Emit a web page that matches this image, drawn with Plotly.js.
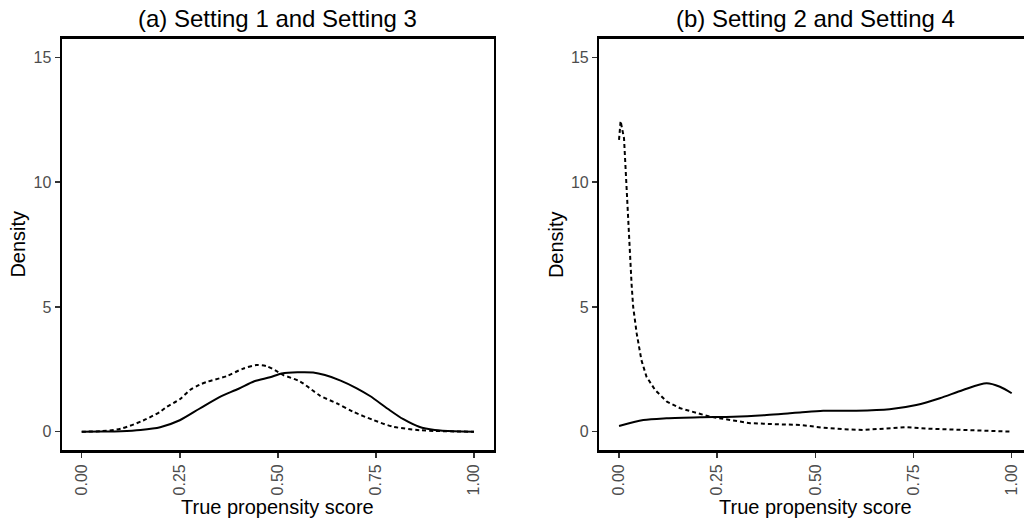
<!DOCTYPE html>
<html>
<head>
<meta charset="utf-8">
<script src="https://cdn.plot.ly/plotly-3.0.1.min.js"></script>
<style>html,body{margin:0;padding:0;background:#fff;overflow:hidden;}#chart{width:1024px;height:523px;}</style>
</head>
<body>
<div id="chart"></div>
<script>
// Panel (a): Setting 1 and Setting 3
const aSolidX = [0, 0.05, 0.1, 0.15, 0.2, 0.25, 0.3, 0.35, 0.4, 0.44, 0.48, 0.51, 0.55, 0.59, 0.62, 0.66, 0.7, 0.735, 0.78, 0.82, 0.86, 0.9, 0.95, 1.0];
const aSolidY = [0, 0.005, 0.02, 0.07, 0.18, 0.46, 0.92, 1.38, 1.72, 2.02, 2.18, 2.33, 2.38, 2.37, 2.27, 2.05, 1.75, 1.43, 0.92, 0.5, 0.2, 0.07, 0.015, 0];
const aDashX = [0, 0.05, 0.1, 0.157, 0.2, 0.217, 0.25, 0.276, 0.3, 0.32, 0.37, 0.41, 0.446, 0.472, 0.5, 0.514, 0.556, 0.607, 0.65, 0.692, 0.743, 0.794, 0.862, 0.9, 0.95, 1.0];
const aDashY = [0, 0.02, 0.12, 0.45, 0.8, 1.0, 1.3, 1.67, 1.88, 2.0, 2.23, 2.52, 2.67, 2.62, 2.4, 2.27, 2.02, 1.45, 1.14, 0.8, 0.47, 0.2, 0.06, 0.03, 0.01, 0];
// Panel (b): Setting 2 and Setting 4
const bSolidX = [0, 0.062, 0.121, 0.206, 0.291, 0.376, 0.435, 0.461, 0.52, 0.604, 0.689, 0.757, 0.817, 0.876, 0.936, 0.97, 1.0];
const bSolidY = [0.23, 0.47, 0.54, 0.58, 0.6, 0.67, 0.74, 0.77, 0.84, 0.84, 0.9, 1.07, 1.34, 1.67, 1.94, 1.8, 1.54];
const bDashX = [0, 0.004, 0.0127, 0.018, 0.024, 0.032, 0.036, 0.045, 0.057, 0.07, 0.092, 0.122, 0.156, 0.198, 0.232, 0.291, 0.334, 0.4, 0.461, 0.52, 0.57, 0.622, 0.68, 0.733, 0.79, 0.843, 0.9, 0.95, 1.0];
const bDashY = [11.7, 12.45, 11.76, 10.1, 7.95, 5.9, 5.0, 3.94, 2.87, 2.2, 1.67, 1.2, 0.94, 0.74, 0.6, 0.45, 0.34, 0.3, 0.27, 0.16, 0.1, 0.07, 0.13, 0.18, 0.12, 0.1, 0.06, 0.03, 0];

const panelTitles = ["(a) Setting 1 and Setting 3", "(b) Setting 2 and Setting 4"];
const xTitle = "True propensity score";
const yTitle = "Density";
const xTicks = [0, 0.25, 0.5, 0.75, 1];
const xTickText = ["0.00", "0.25", "0.50", "0.75", "1.00"];
const yTicks = [0, 5, 10, 15];

const FONT = "Liberation Sans, Arial, Helvetica, sans-serif";
const W = 1024, H = 523;
const px2x = p => p / W;
const px2y = p => 1 - p / H;

const lineSolid = {color: "#000", width: 2};
const lineDash = {color: "#000", width: 2, dash: "4px,3px"};

const traces = [
  {x: aSolidX, y: aSolidY, xaxis: "x", yaxis: "y", mode: "lines", line: Object.assign({shape: "spline", smoothing: 0.8}, lineSolid), hoverinfo: "skip"},
  {x: aDashX, y: aDashY, xaxis: "x", yaxis: "y", mode: "lines", line: Object.assign({shape: "spline", smoothing: 0.8}, lineDash), hoverinfo: "skip"},
  {x: bSolidX, y: bSolidY, xaxis: "x2", yaxis: "y2", mode: "lines", line: Object.assign({shape: "spline", smoothing: 0.8}, lineSolid), hoverinfo: "skip"},
  {x: bDashX, y: bDashY, xaxis: "x2", yaxis: "y2", mode: "lines", line: Object.assign({shape: "linear"}, lineDash), hoverinfo: "skip"}
];

const yDomain = [px2y(450.4), px2y(38.8)];
const common = {
  showgrid: false, zeroline: false, showline: true, linecolor: "#000", linewidth: 2.5,
  ticks: "outside", ticklen: 5, tickwidth: 1.5, tickcolor: "#333333",
  tickfont: {family: FONT, size: 16, color: "#4D4D4D"}, fixedrange: true
};
const xCommon = Object.assign({}, common, {tickmode: "array", tickvals: xTicks, ticktext: xTickText, tickangle: -90});
const yCommon = Object.assign({}, common, {tickmode: "array", tickvals: yTicks, ticktext: yTicks.map(String), range: [-0.75, 15.75]});

const layout = {
  width: W, height: H,
  margin: {l: 0, r: 0, t: 0, b: 0},
  paper_bgcolor: "#fff", plot_bgcolor: "#fff",
  showlegend: false,
  xaxis: Object.assign({}, xCommon, {domain: [px2x(62.1), px2x(493.6)], range: [-0.05, 1.05], anchor: "y", mirror: true}),
  yaxis: Object.assign({}, yCommon, {domain: yDomain, anchor: "x", mirror: true}),
  xaxis2: Object.assign({}, xCommon, {domain: [px2x(599.4), 1], range: [-0.05, (1024 - 619) / 392.7], anchor: "y2", mirror: true}),
  yaxis2: Object.assign({}, yCommon, {domain: yDomain, anchor: "x2", mirror: false}),
  annotations: [
    {text: panelTitles[0], x: px2x(277.8), y: px2y(18), xref: "paper", yref: "paper", xanchor: "center", yanchor: "middle", showarrow: false, font: {family: FONT, size: 24, color: "#000"}},
    {text: panelTitles[1], x: px2x(815.2), y: px2y(18), xref: "paper", yref: "paper", xanchor: "center", yanchor: "middle", showarrow: false, font: {family: FONT, size: 24, color: "#000"}},
    {text: xTitle, x: px2x(277.8), y: px2y(507), xref: "paper", yref: "paper", xanchor: "center", yanchor: "middle", showarrow: false, font: {family: FONT, size: 20, color: "#000"}},
    {text: xTitle, x: px2x(815.2), y: px2y(507), xref: "paper", yref: "paper", xanchor: "center", yanchor: "middle", showarrow: false, font: {family: FONT, size: 20, color: "#000"}},
    {text: yTitle, x: px2x(18), y: px2y(244.6), xref: "paper", yref: "paper", xanchor: "center", yanchor: "middle", textangle: -90, showarrow: false, font: {family: FONT, size: 20, color: "#000"}},
    {text: yTitle, x: px2x(555.5), y: px2y(244.6), xref: "paper", yref: "paper", xanchor: "center", yanchor: "middle", textangle: -90, showarrow: false, font: {family: FONT, size: 20, color: "#000"}}
  ]
};

Plotly.newPlot("chart", traces, layout, {staticPlot: true, displayModeBar: false});
</script>
</body>
</html>
